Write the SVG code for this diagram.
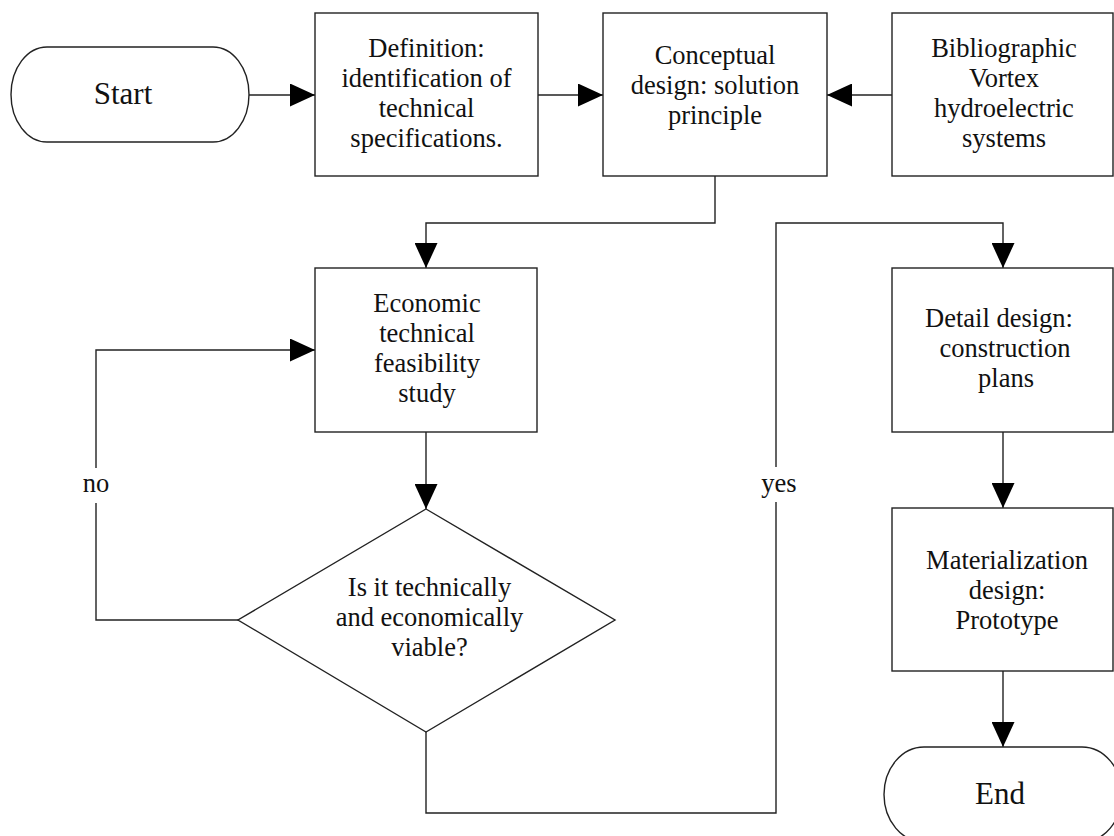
<svg xmlns="http://www.w3.org/2000/svg" width="1114" height="836" viewBox="0 0 1114 836">
<style>
.shape{fill:#fff;stroke:#222;stroke-width:1.4}
.conn{fill:none;stroke:#222;stroke-width:1.4}
text{font-family:"Liberation Serif","Times New Roman",serif;font-size:26.5px;fill:#111;text-anchor:middle}
.big{font-size:31px}
</style>
<defs>
<marker id="arr" markerUnits="userSpaceOnUse" markerWidth="25" markerHeight="23" viewBox="0 0 25 23" refX="25" refY="11.5" orient="auto">
<path d="M0,0 L25,11.5 L0,23 Z" fill="#000"/>
</marker>
</defs>
<rect width="1114" height="836" fill="#fff"/>
<g id="connectors">
<path class="conn" d="M249,95 L315,95" marker-end="url(#arr)"/>
<path class="conn" d="M538,95 L603,95" marker-end="url(#arr)"/>
<path class="conn" d="M892,95 L827,95" marker-end="url(#arr)"/>
<path class="conn" d="M715,176 L715,223 L426,223 L426,268" marker-end="url(#arr)"/>
<path class="conn" d="M426,432 L426,509" marker-end="url(#arr)"/>
<path class="conn" d="M238,620 L96,620 L96,350 L315,350" marker-end="url(#arr)"/>
<path class="conn" d="M426,732 L426,813 L776,813 L776,223 L1003,223 L1003,268" marker-end="url(#arr)"/>
<path class="conn" d="M1003,432 L1003,508" marker-end="url(#arr)"/>
<path class="conn" d="M1003,671 L1003,747" marker-end="url(#arr)"/>
<rect x="80" y="468" width="32" height="35" fill="#fff"/>
<text x="96" y="492">no</text>
<rect x="758" y="467" width="40" height="35" fill="#fff"/>
<text x="779" y="492">yes</text>
</g>
<g id="start">
<rect class="shape" x="11" y="47" width="238" height="95" rx="36" ry="47.5"/>
<text class="big" x="123" y="104">Start</text>
</g>
<g id="definition">
<rect class="shape" x="315" y="13" width="223" height="163"/>
<text x="426.5" y="57">Definition:</text>
<text x="426.5" y="87">identification of</text>
<text x="426.5" y="117">technical</text>
<text x="426.5" y="147">specifications.</text>
</g>
<g id="conceptual">
<rect class="shape" x="603" y="13" width="224" height="163"/>
<text x="715" y="64">Conceptual</text>
<text x="715" y="94">design: solution</text>
<text x="715" y="124">principle</text>
</g>
<g id="bibliographic">
<rect class="shape" x="892" y="13" width="221" height="163"/>
<text x="1004" y="57">Bibliographic</text>
<text x="1004" y="87">Vortex</text>
<text x="1004" y="117">hydroelectric</text>
<text x="1004" y="147">systems</text>
</g>
<g id="economic">
<rect class="shape" x="315" y="268" width="222" height="164"/>
<text x="427" y="312">Economic</text>
<text x="427" y="342">technical</text>
<text x="427" y="372">feasibility</text>
<text x="427" y="402">study</text>
</g>
<g id="decision">
<polygon class="shape" points="426,509 615,620 426,732 238,620"/>
<text x="429.5" y="596">Is it technically</text>
<text x="429.5" y="626">and economically</text>
<text x="429.5" y="656">viable?</text>
</g>
<g id="detail">
<rect class="shape" x="892" y="268" width="221" height="164"/>
<text x="999" y="327">Detail design:</text>
<text x="1005" y="357">construction</text>
<text x="1006" y="387">plans</text>
</g>
<g id="materialization">
<rect class="shape" x="892" y="508" width="221" height="163"/>
<text x="1007" y="569">Materialization</text>
<text x="1007" y="599">design:</text>
<text x="1007" y="629">Prototype</text>
</g>
<g id="end">
<rect class="shape" x="884" y="747" width="238" height="95" rx="40" ry="47.5"/>
<text class="big" x="1000" y="804">End</text>
</g>
</svg>
